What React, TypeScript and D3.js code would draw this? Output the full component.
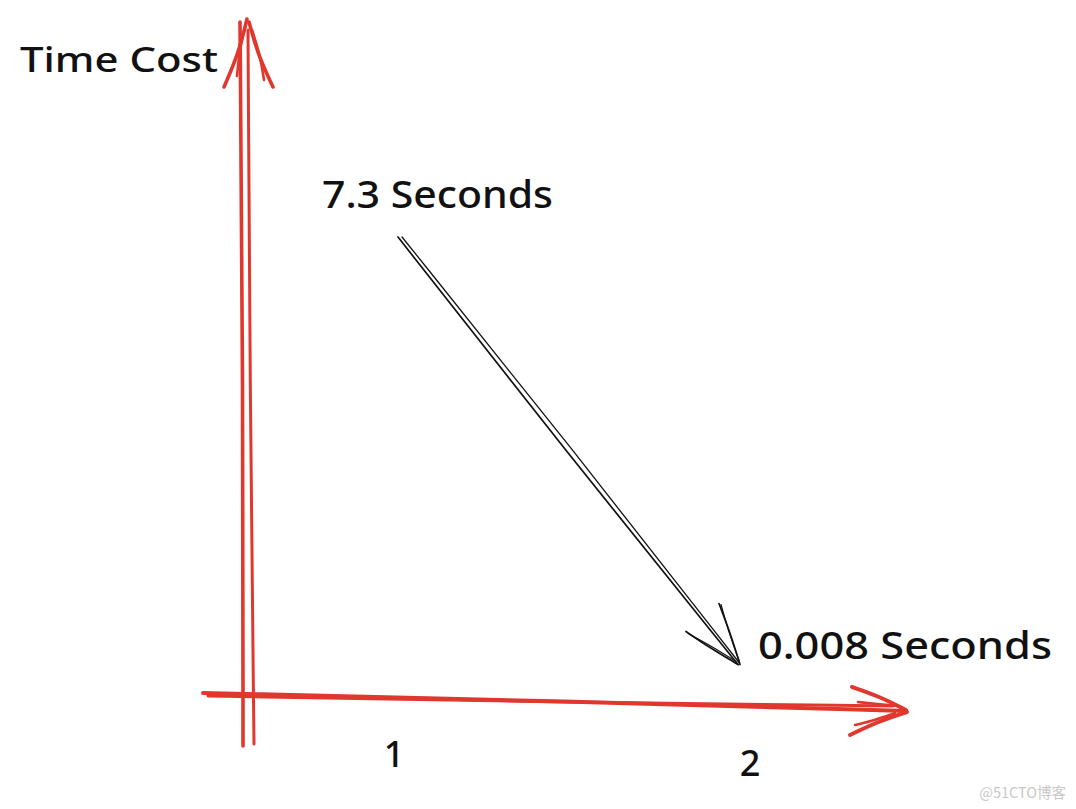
import React from 'react';
import * as d3 from 'd3';

// sketch data
const categories = ['1', '2'];
const timeCost = [7.3, 0.008];
const valueLabels = ['7.3 Seconds', '0.008 Seconds'];
const yTitle = 'Time Cost';

const W = 1076;
const H = 809;
const RED = '#e0382e';
const FONT = '"Noto Sans", "DejaVu Sans", sans-serif';

type Pt = [number, number];

const line = d3.line<Pt>().curve(d3.curveBasis);

// a rough "hand drawn" stroke: a start, a slightly bowed middle, an end
function rough(a: Pt, b: Pt, bow: number): string {
  const mx = (a[0] + b[0]) / 2;
  const my = (a[1] + b[1]) / 2;
  const dx = b[0] - a[0];
  const dy = b[1] - a[1];
  const len = Math.hypot(dx, dy) || 1;
  const m: Pt = [mx - (dy / len) * bow, my + (dx / len) * bow];
  return line([a, a, m, b, b]) || '';
}

export default function App() {
  const x = d3.scalePoint<string>().domain(categories).range([393, 746]);
  const y = d3.scaleLinear().domain([0, 7.3]).range([645, 195]);

  const pts = categories.map((c, i) => ({ c, v: timeCost[i], label: valueLabels[i], px: x(c) || 0, py: y(timeCost[i]) }));
  const p0 = pts[0];
  const p1 = pts[1];

  // arrow from the first value toward the second
  const aStart: Pt = [p0.px + 5, p0.py + 42];
  const aEnd: Pt = [p1.px - 8, p1.py + 20];

  return (
    <svg width={W} height={H} style={{ position: 'absolute', left: 0, top: 0, background: '#fff' }}>
      {/* y axis */}
      <g fill="none" stroke={RED} strokeLinecap="round" strokeWidth={3.6}>
        <path d={rough([243, 746], [240, 22], 1.5)} />
        <path d={rough([254, 744], [248, 30], -1)} strokeWidth={3} />
        <path d={rough([247, 19], [224, 87], -3)} />
        <path d={rough([246, 24], [237, 76], 2)} strokeWidth={2.6} />
        <path d={rough([249, 22], [273, 87], 3)} />
        <path d={rough([252, 30], [264, 80], -2)} strokeWidth={2.6} />
      </g>
      {/* x axis */}
      <g fill="none" stroke={RED} strokeLinecap="round" strokeWidth={4}>
        <path d={rough([203, 693], [906, 711], -1)} />
        <path d={rough([208, 696], [893, 706], 1)} strokeWidth={3} />
        <path d={rough([852, 687], [906, 710], -2)} />
        <path d={rough([858, 702], [897, 706], 0)} strokeWidth={2.6} />
        <path d={rough([850, 735], [907, 712], -2)} />
        <path d={rough([855, 725], [895, 713], 1)} strokeWidth={2.6} />
      </g>

      {/* y title */}
      <text x={20} y={72} fontFamily={FONT} fontSize={34} fontWeight={500} textLength={198} lengthAdjust="spacingAndGlyphs" fill="#111">
        {yTitle}
      </text>

      {/* category ticks */}
      {pts.map((p, i) => (
        <text key={p.c} x={p.px + (i === 0 ? 1 : 4)} y={i === 0 ? 767 : 776} textAnchor="middle" fontFamily={FONT} fontSize={36} fontWeight={500} fill="#111">
          {p.c}
        </text>
      ))}

      {/* value labels */}
      <text x={p0.px - 71} y={p0.py + 13} fontFamily={FONT} fontSize={38} fontWeight={500} textLength={231} lengthAdjust="spacingAndGlyphs" fill="#111">
        {p0.label}
      </text>
      <text x={p1.px + 12} y={p1.py + 14} fontFamily={FONT} fontSize={38} fontWeight={500} textLength={294} lengthAdjust="spacingAndGlyphs" fill="#111">
        {p1.label}
      </text>

      {/* arrow */}
      <g fill="none" stroke="#111" strokeLinecap="round" strokeWidth={1.7}>
        <path d={rough(aStart, aEnd, 2)} />
        <path d={rough([aStart[0] + 4, aStart[1]], [aEnd[0] + 1, aEnd[1] - 2], -2)} strokeWidth={1.3} />
        <path d={rough([aEnd[0] - 52, aEnd[1] - 33], aEnd, 1)} />
        <path d={rough([aEnd[0] - 50, aEnd[1] - 31], [aEnd[0] - 2, aEnd[1] - 3], -1)} strokeWidth={1.2} />
        <path d={rough([aEnd[0] - 19, aEnd[1] - 61], [aEnd[0] + 2, aEnd[1]], -1)} />
        <path d={rough([aEnd[0] - 17, aEnd[1] - 60], [aEnd[0] + 1, aEnd[1] - 4], 1)} strokeWidth={1.2} />
      </g>

      {/* watermark */}
      <text x={1066} y={798} textAnchor="end" fontFamily='"Noto Sans CJK SC", sans-serif' fontSize={14.5} fill="#c8c8c8">
        @51CTO博客
      </text>
    </svg>
  );
}
